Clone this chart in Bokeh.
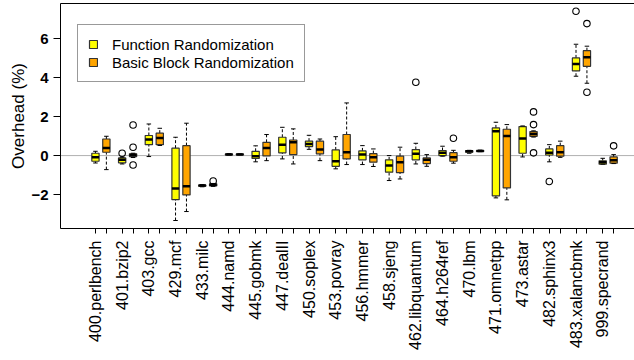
import math
from bokeh.plotting import figure
from bokeh.models import (ColumnDataSource, FixedTicker, LinearAxis, Range1d, Span,
                          Legend, LegendItem, Title)
from bokeh.embed import file_html
from bokeh.resources import INLINE

# ---------------- data ----------------
benchmarks = ["400.perlbench", "401.bzip2", "403.gcc", "429.mcf", "433.milc",
              "444.namd", "445.gobmk", "447.dealII", "450.soplex", "453.povray",
              "456.hmmer", "458.sjeng", "462.libquantum", "464.h264ref", "470.lbm",
              "471.omnetpp", "473.astar", "482.sphinx3", "483.xalancbmk", "999.specrand"]

# Function Randomization
func_low = [-0.38, -0.43, -0.05, -3.33, -1.60, 0.03, -0.32, -0.17, 0.32, -0.68,
            -0.46, -1.28, -0.43, -0.03, 0.12, -2.17, -0.07, -0.32, 4.07, -0.44]
func_q1 = [-0.29, -0.37, 0.56, -2.26, -1.57, 0.05, -0.15, 0.14, 0.46, -0.55,
           -0.22, -0.85, -0.22, 0.00, 0.17, -2.07, 0.12, 0.03, 4.34, -0.44]
func_med = [-0.08, -0.22, 0.82, -1.69, -1.54, 0.06, -0.03, 0.56, 0.60, -0.29,
            0.05, -0.51, 0.09, 0.15, 0.22, 1.25, 0.87, 0.14, 4.70, -0.34]
func_q3 = [0.12, -0.12, 1.03, 0.38, -1.51, 0.08, 0.22, 0.94, 0.74, 0.29,
           0.24, -0.22, 0.31, 0.26, 0.25, 1.42, 1.49, 0.34, 5.01, -0.27]
func_high = [0.22, -0.08, 1.62, 0.94, -1.49, 0.10, 0.50, 1.45, 1.04, 0.97,
             0.51, 0.00, 0.63, 0.48, 0.27, 1.71, 1.52, 0.56, 5.71, -0.14]
func_out = [[], [0.12], [], [], [], [], [], [], [], [],
            [], [], [3.76], [], [], [], [], [-1.33], [7.40], []]

# Basic Block Randomization
bb_low = [-0.72, -0.10, 0.52, -2.87, -1.58, 0.04, -0.26, -0.43, -0.26, -0.46,
          -0.56, -1.20, -0.55, -0.39, 0.20, -2.27, 0.95, -0.09, 3.71, -0.41]
bb_q1 = [0.17, -0.05, 0.56, -2.02, -1.56, 0.05, -0.02, 0.05, 0.09, -0.17,
         -0.34, -0.87, -0.41, -0.29, 0.21, -1.66, 0.99, -0.03, 4.58, -0.39]
bb_med = [0.39, 0.03, 0.90, -1.57, -1.50, 0.06, 0.39, 0.68, 0.31, 0.17,
          -0.09, -0.34, -0.21, -0.09, 0.24, 1.01, 1.11, 0.17, 5.04, -0.24]
bb_q3 = [0.85, 0.09, 1.15, 0.51, -1.45, 0.08, 0.68, 0.80, 0.74, 1.08,
         0.10, -0.03, -0.12, 0.15, 0.26, 1.35, 1.23, 0.51, 5.38, -0.07]
bb_high = [0.99, 0.12, 1.40, 1.66, -1.43, 0.09, 1.08, 1.37, 0.85, 2.70,
           0.34, 0.43, 0.05, 0.27, 0.28, 1.59, 1.27, 0.74, 5.61, 0.05]
bb_out = [[], [1.57, 0.43, -0.48], [], [], [-1.30], [], [], [], [], [],
          [], [], [], [0.89], [], [], [2.24, 1.59, 0.14], [], [6.77, 3.25], [0.50]]

series_names = ["Function Randomization", "Basic Block Randomization"]
series_colors = ["#FFFF00", "#FFA500"]

# ---------------- layout helpers ----------------
GROUP = 22      # distance between benchmark groups (x units)
OFFSET = 9      # distance between the two boxes of a group
BOX_W = 6

p = figure(width=634, height=360, output_backend="svg", toolbar_location=None,
           x_range=Range1d(-28.8, 444.2), y_range=Range1d(-3.74, 7.8),
           min_border_left=60, min_border_right=0, min_border_top=3,
           min_border_bottom=132, background_fill_color="white",
           border_fill_color="white")
p.xgrid.visible = False
p.ygrid.visible = False
p.outline_line_color = None

zero = Span(location=0, dimension="width", line_color="#b0b0b0", line_width=1,
            level="underlay")
p.add_layout(zero)

box_renderers = []
all_ticks = []
overrides = {}
for k, (low, q1, med, q3, high, outs) in enumerate([
        (func_low, func_q1, func_med, func_q3, func_high, func_out),
        (bb_low, bb_q1, bb_med, bb_q3, bb_high, bb_out)]):
    xs = [GROUP * i + OFFSET * k for i in range(len(benchmarks))]
    for i, x in enumerate(xs):
        all_ticks.append(x)
        overrides[x] = benchmarks[i] if k == 0 else ""
    src = ColumnDataSource(dict(
        x=xs, low=low, q1=q1, med=med, q3=q3, high=high,
        x0=[x - BOX_W / 2 for x in xs], x1=[x + BOX_W / 2 for x in xs]))
    # whiskers
    p.segment(x0="x", y0="q3", x1="x", y1="high", source=src,
              line_color="black", line_width=1, line_dash="3 2")
    p.segment(x0="x", y0="low", x1="x", y1="q1", source=src,
              line_color="black", line_width=1, line_dash="3 2")
    # boxes
    r = p.vbar(x="x", width=BOX_W, bottom="q1", top="q3", source=src,
               fill_color=series_colors[k], line_color="#333333", line_width=1.2)
    box_renderers.append(r)
    # medians
    p.segment(x0="x0", y0="med", x1="x1", y1="med", source=src,
              line_color="black", line_width=2.5)
    # caps
    p.scatter(x="x", y="high", source=src, marker="dash", size=4.5,
              line_color="black", line_width=1)
    p.scatter(x="x", y="low", source=src, marker="dash", size=4.5,
              line_color="black", line_width=1)
    # outliers
    ox, oy = [], []
    for i, vals in enumerate(outs):
        for v in vals:
            ox.append(xs[i])
            oy.append(v)
    p.scatter(x=ox, y=oy, marker="circle", size=6.5, fill_color=None,
              line_color="black", line_width=1.1)

# x axis
xa = p.xaxis[0]
xa.ticker = FixedTicker(ticks=sorted(all_ticks))
xa.major_label_overrides = overrides
xa.major_label_orientation = math.pi / 2
xa.major_label_text_font = "Liberation Sans"
xa.major_label_text_font_size = "16px"
xa.major_label_text_color = "black"
xa.major_tick_out = 5
xa.major_tick_in = 0
xa.minor_tick_line_color = None
xa.major_label_standoff = 7
xa.axis_line_color = "black"

# y axis
ya = p.yaxis[0]
ya.ticker = FixedTicker(ticks=[-2, 0, 2, 4, 6])
ya.major_label_overrides = {-2: "\u22122"}
ya.major_label_text_font = "Liberation Sans"
ya.major_label_text_font_size = "15px"
ya.major_label_text_font_style = "bold"
ya.major_label_text_color = "black"
ya.major_tick_out = 7
ya.major_tick_in = 0
ya.minor_tick_line_color = None
ya.major_label_standoff = 5
ya.axis_line_color = "black"

# top frame line
top_axis = LinearAxis(ticker=FixedTicker(ticks=[]), major_tick_out=0, major_tick_in=0,
                      major_label_standoff=0, major_label_text_font_size="0px",
                      minor_tick_line_color=None, axis_line_color="black")
p.add_layout(top_axis, "above")

# y axis label as a left title
ytitle = Title(text="Overhead (%)", align="center", offset=14,
               text_font="Liberation Sans", text_font_size="17px",
               text_font_style="normal", text_color="black", standoff=2)
p.add_layout(ytitle, "left")

legend = Legend(items=[LegendItem(label=series_names[0], renderers=[box_renderers[0]]),
                       LegendItem(label=series_names[1], renderers=[box_renderers[1]])],
                location=(17, 146), margin=0, padding=10, spacing=0,
                glyph_width=10, glyph_height=10, label_height=18, label_standoff=14,
                label_text_font="Liberation Sans", label_text_font_size="15px",
                label_text_color="black",
                border_line_color="#333333", border_line_width=1,
                background_fill_color="white", background_fill_alpha=1)
p.add_layout(legend)

open("out.html", "w").write(file_html(p, INLINE))
